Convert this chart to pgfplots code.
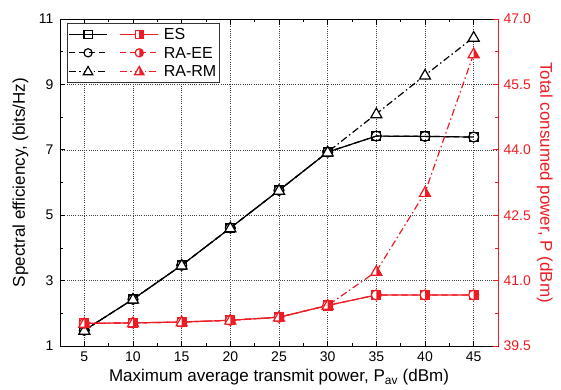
\documentclass[border=0pt]{standalone}
\usepackage{fontspec}
\setmainfont{Liberation Sans}
\usepackage{pgfplots}
\pgfplotsset{compat=1.18}
\definecolor{myred}{RGB}{237,28,36}

\pgfdeclareplotmark{hsquare}{%
  \pgfpathrectangle{\pgfqpoint{-\pgfplotmarksize}{-\pgfplotmarksize}}{\pgfqpoint{2\pgfplotmarksize}{2\pgfplotmarksize}}%
  \pgfsetfillcolor{white}\pgfusepath{fill}%
  \pgfpathrectangle{\pgfqpoint{0pt}{-\pgfplotmarksize}}{\pgfqpoint{\pgfplotmarksize}{2\pgfplotmarksize}}%
  \pgfsetfillcolor{myred}\pgfusepath{fill}%
  \pgfpathrectangle{\pgfqpoint{-\pgfplotmarksize}{-\pgfplotmarksize}}{\pgfqpoint{2\pgfplotmarksize}{2\pgfplotmarksize}}%
  \pgfusepath{stroke}%
}
\pgfdeclareplotmark{hcircle}{%
  \pgfpathcircle{\pgfpointorigin}{\pgfplotmarksize}%
  \pgfsetfillcolor{white}\pgfusepath{fill}%
  \pgfpathmoveto{\pgfqpoint{0pt}{\pgfplotmarksize}}%
  \pgfpatharc{90}{-90}{\pgfplotmarksize}%
  \pgfpathclose
  \pgfsetfillcolor{myred}\pgfusepath{fill}%
  \pgfpathcircle{\pgfpointorigin}{\pgfplotmarksize}%
  \pgfusepath{stroke}%
}
\pgfdeclareplotmark{htri}{%
  \pgfpathmoveto{\pgfqpoint{0pt}{1.2\pgfplotmarksize}}%
  \pgfpathlineto{\pgfqpoint{1.15\pgfplotmarksize}{-0.8\pgfplotmarksize}}%
  \pgfpathlineto{\pgfqpoint{-1.15\pgfplotmarksize}{-0.8\pgfplotmarksize}}%
  \pgfpathclose
  \pgfsetfillcolor{white}\pgfusepath{fill}%
  \pgfpathmoveto{\pgfqpoint{0pt}{1.2\pgfplotmarksize}}%
  \pgfpathlineto{\pgfqpoint{1.15\pgfplotmarksize}{-0.8\pgfplotmarksize}}%
  \pgfpathlineto{\pgfqpoint{0pt}{-0.8\pgfplotmarksize}}%
  \pgfpathclose
  \pgfsetfillcolor{myred}\pgfusepath{fill}%
  \pgfpathmoveto{\pgfqpoint{0pt}{1.2\pgfplotmarksize}}%
  \pgfpathlineto{\pgfqpoint{1.15\pgfplotmarksize}{-0.8\pgfplotmarksize}}%
  \pgfpathlineto{\pgfqpoint{-1.15\pgfplotmarksize}{-0.8\pgfplotmarksize}}%
  \pgfpathclose
  \pgfusepath{stroke}%
}
\pgfdeclareplotmark{otri}{%
  \pgfpathmoveto{\pgfqpoint{0pt}{1.2\pgfplotmarksize}}%
  \pgfpathlineto{\pgfqpoint{1.15\pgfplotmarksize}{-0.8\pgfplotmarksize}}%
  \pgfpathlineto{\pgfqpoint{-1.15\pgfplotmarksize}{-0.8\pgfplotmarksize}}%
  \pgfpathclose
  \pgfsetfillcolor{white}\pgfusepath{fill,stroke}%
}

\pgfplotstableread{
x   es    ee    rm
5   1.48  1.48  1.48
10  2.43  2.43  2.43
15  3.47  3.47  3.47
20  4.61  4.61  4.61
25  5.76  5.76  5.76
30  6.93  6.93  6.93
35  7.42  7.42  8.10
40  7.41  7.41  9.28
45  7.39  7.39  10.44
}\setable
\pgfplotstableread{
x   es     ee     rm
5   40.02  40.02  40.02
10  40.03  40.03  40.03
15  40.05  40.05  40.05
20  40.09  40.09  40.09
25  40.16  40.16  40.16
30  40.43  40.43  40.43
35  40.67  40.67  41.21
40  40.67  40.67  43.02
45  40.67  40.67  46.20
}\pwtable

\newcommand{\lf}{\fontsize{16}{18}\selectfont}
\tikzset{
  dashA/.style={dash pattern=on 6pt off 4pt},
  dashB/.style={dash pattern=on 7pt off 3pt on 1.5pt off 3pt},
}
\pgfplotsset{
  common/.style={
    scale only axis, width=438pt, height=327pt,
    xmin=2.5, xmax=47.5,
    tick align=inside,
    major tick length=5.5pt, minor tick length=3pt,
    /pgf/number format/assume math mode=true,
    tick label style={font=\fontsize{14}{16}\selectfont},
  },
}

\begin{document}
\begin{tikzpicture}
\useasboundingbox (-60pt,-43pt) rectangle (501pt,346pt);
\begin{axis}[common,
  ymin=1, ymax=11,
  xtick={5,10,...,45}, ytick={1,3,5,7,9,11},
  minor x tick num=1, minor y tick num=1,
  ytick pos=left, xtick pos=both,
  grid=major,
  major grid style={black!75, line width=0.5pt, dash pattern=on 0.6pt off 1.6pt},
  axis line style={line width=0.9pt},
  every tick/.style={black, line width=0.8pt},
  xticklabel style={yshift=-2pt},
  yticklabel style={xshift=-3pt},
  xlabel={Maximum average transmit power, P\textsubscript{av} (dBm)},
  ylabel={Spectral efficiency, (bits/Hz)},
  every axis x label/.style={at={(axis description cs:0.5,-0.095)}, anchor=center, font=\fontsize{17}{20}\selectfont},
  every axis y label/.style={at={(axis description cs:-0.09,0.5)}, rotate=90, anchor=center, font=\fontsize{17}{20}\selectfont},
]
\addplot[black, line width=1.2pt, mark=square, mark size=4.5pt, mark options={solid, fill=white}] table[x=x,y=es] {\setable};
\addplot[black, line width=1.2pt, dashA, mark=o, mark size=5pt, mark options={solid, fill=white}] table[x=x,y=ee] {\setable};
\addplot[black, line width=1.2pt, dashB, mark=otri, mark size=4.8pt, mark options={solid}] table[x=x,y=rm] {\setable};
\end{axis}
\begin{axis}[common,
  ymin=39.5, ymax=47,
  axis y line*=right, axis x line=none,
  ytick={39.5,41.0,42.5,44.0,45.5,47.0},
  minor y tick num=1,
  axis line style={-, myred, line width=0.9pt},
  every tick/.style={myred, line width=0.8pt},
  yticklabel style={myred, xshift=2pt, /pgf/number format/.cd, fixed, fixed zerofill, precision=1},
  ylabel={Total consumed power, P (dBm)},
  every axis y label/.style={at={(axis description cs:1.107,0.5)}, rotate=-90, anchor=center, myred, font=\fontsize{17}{20}\selectfont},
  legend columns=2,
  legend cell align=left,
  legend style={at={(axis description cs:0.015,0.987)}, anchor=north west,
    draw=black!80, line width=0.8pt, font=\lf,
    inner sep=1.5pt, row sep=0.5pt,
    nodes={inner sep=2pt},
    /tikz/every odd column/.append style={column sep=3pt},
    /tikz/every even column/.append style={column sep=5pt}},
  legend image code/.code={\draw[mark repeat=2, mark phase=2] plot coordinates {(0pt,0pt)(19pt,0pt)(38pt,0pt)};},
  legend image post style={mark size=4.1pt},
]
\addlegendimage{black, line width=1.2pt, mark=square, mark options={solid, fill=white}}
\addlegendentry{\lf\strut}
\addplot[myred, line width=1.2pt, mark=hsquare, mark size=4.5pt, mark options={solid}] table[x=x,y=es] {\pwtable};
\addlegendentry{\lf\strut ES}
\addlegendimage{black, line width=1.2pt, dashA, mark=o, mark options={solid, fill=white}}
\addlegendentry{\lf\strut}
\addplot[myred, line width=1.2pt, dashA, mark=hcircle, mark size=5pt, mark options={solid}] table[x=x,y=ee] {\pwtable};
\addlegendentry{\lf\strut RA-EE}
\addlegendimage{black, line width=1.2pt, dashB, mark=otri, mark options={solid}}
\addlegendentry{\lf\strut}
\addplot[myred, line width=1.2pt, dashB, mark=htri, mark size=4.8pt, mark options={solid}] table[x=x,y=rm] {\pwtable};
\addlegendentry{\lf\strut RA-RM}
\end{axis}
\end{tikzpicture}
\end{document}
